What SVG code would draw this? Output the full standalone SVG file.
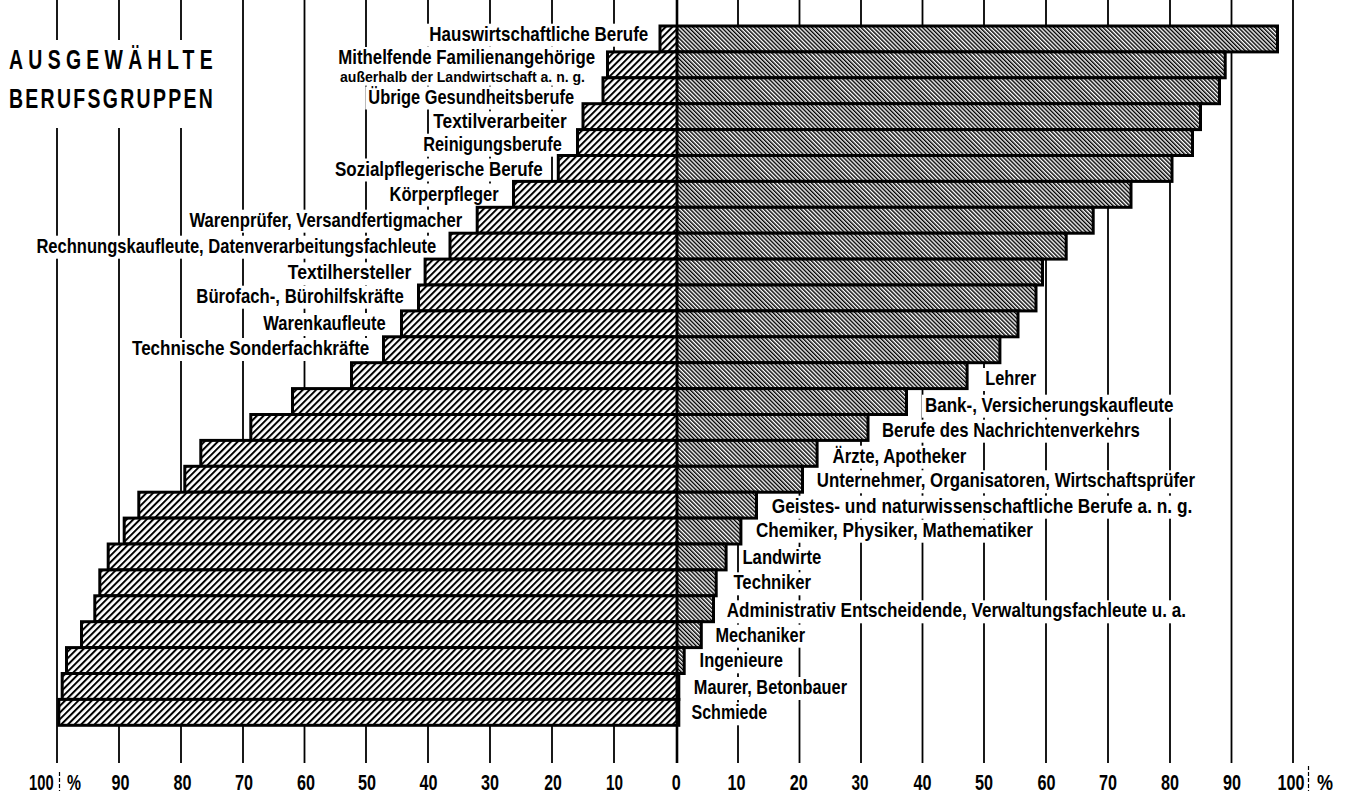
<svg xmlns="http://www.w3.org/2000/svg" width="1366" height="800" viewBox="0 0 1366 800">
<style>
.g{stroke:#000;stroke-width:1.8;fill:none}
.g0{stroke:#000;stroke-width:2.6;fill:none}
.bg{fill:#fff}
.t{font-family:"Liberation Sans",Arial,sans-serif;font-weight:bold;font-size:20.5px;fill:#000}
.ts{font-family:"Liberation Sans",Arial,sans-serif;font-weight:bold;font-size:14px;fill:#000}
.ax{font-family:"Liberation Sans",Arial,sans-serif;font-weight:bold;font-size:22px;fill:#000;text-anchor:middle}
.ti{font-family:"Liberation Sans",Arial,sans-serif;font-weight:bold;font-size:27px;fill:#000}
.hl{fill:url(#hl)}
.hr{fill:url(#hr)}
.ol{fill:none;stroke:#000;stroke-width:3}
</style>
<defs>
<pattern id="hl" patternUnits="userSpaceOnUse" width="4.7" height="10" patternTransform="rotate(45)">
<rect width="4.7" height="10" fill="#fff"/><rect width="2" height="10" fill="#000"/>
</pattern>
<pattern id="hr" patternUnits="userSpaceOnUse" width="2.9" height="10" patternTransform="rotate(-45)">
<rect width="2.9" height="10" fill="#fff"/><rect width="1.45" height="10" fill="#000"/>
</pattern>
</defs>
<rect width="1366" height="800" fill="#fff"/>

<g id="grid">
<line class="g" x1="57" y1="0" x2="57" y2="763"/>
<line class="g" x1="119" y1="0" x2="119" y2="763"/>
<line class="g" x1="181" y1="0" x2="181" y2="763"/>
<line class="g" x1="243" y1="0" x2="243" y2="763"/>
<line class="g" x1="304.5" y1="0" x2="304.5" y2="763"/>
<line class="g" x1="366" y1="0" x2="366" y2="763"/>
<line class="g" x1="428" y1="0" x2="428" y2="763"/>
<line class="g" x1="490" y1="0" x2="490" y2="763"/>
<line class="g" x1="552" y1="0" x2="552" y2="763"/>
<line class="g" x1="614" y1="0" x2="614" y2="763"/>
<line class="g0" x1="677" y1="0" x2="677" y2="763"/>
<line class="g" x1="738" y1="0" x2="738" y2="763"/>
<line class="g" x1="799.5" y1="0" x2="799.5" y2="763"/>
<line class="g" x1="861" y1="0" x2="861" y2="763"/>
<line class="g" x1="922.5" y1="0" x2="922.5" y2="763"/>
<line class="g" x1="984" y1="0" x2="984" y2="763"/>
<line class="g" x1="1046" y1="0" x2="1046" y2="763"/>
<line class="g" x1="1108" y1="0" x2="1108" y2="763"/>
<line class="g" x1="1170" y1="0" x2="1170" y2="763"/>
<line class="g" x1="1231.5" y1="0" x2="1231.5" y2="763"/>
<line class="g" x1="1293" y1="0" x2="1293" y2="763"/>
<line x1="59.5" y1="772" x2="59.5" y2="791" stroke="#000" stroke-width="1.2" stroke-dasharray="4 2"/>
<line x1="1308.5" y1="766" x2="1308.5" y2="791" stroke="#000" stroke-width="1.2" stroke-dasharray="4 2"/>
</g>

<g id="title">
<rect class="bg" x="0" y="40" width="228" height="88"/>
<g transform="translate(9,69) scale(0.72,1)"><text class="ti" x="0" y="0" textLength="283" lengthAdjust="spacing">AUSGEWÄHLTE</text></g>
<g transform="translate(9,107.5) scale(0.72,1)"><text class="ti" x="0" y="0" textLength="283" lengthAdjust="spacing">BERUFSGRUPPEN</text></g>
</g>

<g id="axis-labels">
<text class="ax" x="41.3" y="790" textLength="24.6" lengthAdjust="spacingAndGlyphs">100</text>
<text class="ax" x="74" y="790" textLength="14" lengthAdjust="spacingAndGlyphs">%</text>
<text class="ax" x="120.5" y="790" textLength="18" lengthAdjust="spacingAndGlyphs">90</text>
<text class="ax" x="182.6" y="790" textLength="18" lengthAdjust="spacingAndGlyphs">80</text>
<text class="ax" x="244" y="790" textLength="18" lengthAdjust="spacingAndGlyphs">70</text>
<text class="ax" x="306" y="790" textLength="18" lengthAdjust="spacingAndGlyphs">60</text>
<text class="ax" x="367" y="790" textLength="18" lengthAdjust="spacingAndGlyphs">50</text>
<text class="ax" x="428.6" y="790" textLength="18" lengthAdjust="spacingAndGlyphs">40</text>
<text class="ax" x="490" y="790" textLength="18" lengthAdjust="spacingAndGlyphs">30</text>
<text class="ax" x="553" y="790" textLength="17.6" lengthAdjust="spacingAndGlyphs">20</text>
<text class="ax" x="614.5" y="790" textLength="17" lengthAdjust="spacingAndGlyphs">10</text>
<text class="ax" x="676.3" y="790" textLength="9" lengthAdjust="spacingAndGlyphs">0</text>
<text class="ax" x="736.6" y="790" textLength="18" lengthAdjust="spacingAndGlyphs">10</text>
<text class="ax" x="798.7" y="790" textLength="18" lengthAdjust="spacingAndGlyphs">20</text>
<text class="ax" x="860" y="790" textLength="17" lengthAdjust="spacingAndGlyphs">30</text>
<text class="ax" x="922.6" y="790" textLength="18" lengthAdjust="spacingAndGlyphs">40</text>
<text class="ax" x="984" y="790" textLength="18" lengthAdjust="spacingAndGlyphs">50</text>
<text class="ax" x="1046.5" y="790" textLength="18" lengthAdjust="spacingAndGlyphs">60</text>
<text class="ax" x="1108" y="790" textLength="18" lengthAdjust="spacingAndGlyphs">70</text>
<text class="ax" x="1170" y="790" textLength="18" lengthAdjust="spacingAndGlyphs">80</text>
<text class="ax" x="1232" y="790" textLength="18" lengthAdjust="spacingAndGlyphs">90</text>
<text class="ax" x="1291" y="790" textLength="27" lengthAdjust="spacingAndGlyphs">100</text>
<text class="ax" x="1325" y="790" textLength="16" lengthAdjust="spacingAndGlyphs">%</text>
</g>

<g id="labels">
<g id="label-1"><rect class="bg" x="426.3" y="23.7" width="225" height="23"/><text class="t" x="429.3" y="40.7" textLength="219" lengthAdjust="spacingAndGlyphs">Hauswirtschaftliche Berufe</text></g>
<g id="label-2"><rect class="bg" x="335.3" y="47" width="262.7" height="23"/><text class="t" x="338.3" y="64" textLength="256.7" lengthAdjust="spacingAndGlyphs">Mithelfende Familienangehörige</text>
<rect class="bg" x="337" y="69.7" width="251" height="16"/><text class="ts" x="340" y="81.7" textLength="245" lengthAdjust="spacingAndGlyphs">außerhalb der Landwirtschaft a. n. g.</text></g>
<g id="label-3"><rect class="bg" x="365.3" y="86.5" width="211.7" height="23"/><text class="t" x="368.3" y="103.5" textLength="205.7" lengthAdjust="spacingAndGlyphs">Übrige Gesundheitsberufe</text></g>
<g id="label-4"><rect class="bg" x="430.3" y="111.3" width="139.4" height="23"/><text class="t" x="433.3" y="128.3" textLength="133.4" lengthAdjust="spacingAndGlyphs">Textilverarbeiter</text></g>
<g id="label-5"><rect class="bg" x="420.3" y="133.7" width="144.4" height="23"/><text class="t" x="423.3" y="150.7" textLength="138.4" lengthAdjust="spacingAndGlyphs">Reinigungsberufe</text></g>
<g id="label-6"><rect class="bg" x="332" y="158.5" width="213.7" height="23"/><text class="t" x="335" y="175.5" textLength="207.7" lengthAdjust="spacingAndGlyphs">Sozialpflegerische Berufe</text></g>
<g id="label-7"><rect class="bg" x="386.6" y="183.5" width="115.1" height="23"/><text class="t" x="389.6" y="200.5" textLength="109.1" lengthAdjust="spacingAndGlyphs">Körperpfleger</text></g>
<g id="label-8"><rect class="bg" x="186.4" y="209.7" width="278.9" height="23"/><text class="t" x="189.4" y="226.7" textLength="272.9" lengthAdjust="spacingAndGlyphs">Warenprüfer, Versandfertigmacher</text></g>
<g id="label-9"><rect class="bg" x="33.4" y="235.7" width="405.9" height="23"/><text class="t" x="36.4" y="252.7" textLength="399.9" lengthAdjust="spacingAndGlyphs">Rechnungskaufleute, Datenverarbeitungsfachleute</text></g>
<g id="label-10"><rect class="bg" x="284.8" y="262.3" width="129.6" height="23"/><text class="t" x="287.8" y="279.3" textLength="123.6" lengthAdjust="spacingAndGlyphs">Textilhersteller</text></g>
<g id="label-11"><rect class="bg" x="193.3" y="285.7" width="213.4" height="23"/><text class="t" x="196.3" y="302.7" textLength="207.4" lengthAdjust="spacingAndGlyphs">Bürofach-, Bürohilfskräfte</text></g>
<g id="label-12"><rect class="bg" x="260.3" y="313" width="128.5" height="23"/><text class="t" x="263.3" y="330" textLength="122.5" lengthAdjust="spacingAndGlyphs">Warenkaufleute</text></g>
<g id="label-13"><rect class="bg" x="129" y="338" width="243.3" height="23"/><text class="t" x="132" y="355" textLength="237.3" lengthAdjust="spacingAndGlyphs">Technische Sonderfachkräfte</text></g>
<g id="label-14"><rect class="bg" x="982.2" y="368" width="56.8" height="23"/><text class="t" x="985.2" y="385" textLength="50.8" lengthAdjust="spacingAndGlyphs">Lehrer</text></g>
<g id="label-15"><rect class="bg" x="921.9" y="394.7" width="254.6" height="23"/><text class="t" x="924.9" y="411.7" textLength="248.6" lengthAdjust="spacingAndGlyphs">Bank-, Versicherungskaufleute</text></g>
<g id="label-16"><rect class="bg" x="879" y="419.7" width="263.7" height="23"/><text class="t" x="882" y="436.7" textLength="257.7" lengthAdjust="spacingAndGlyphs">Berufe des Nachrichtenverkehrs</text></g>
<g id="label-17"><rect class="bg" x="829.5" y="445.7" width="139.8" height="23"/><text class="t" x="832.5" y="462.7" textLength="133.8" lengthAdjust="spacingAndGlyphs">Ärzte, Apotheker</text></g>
<g id="label-18"><rect class="bg" x="813.8" y="470.3" width="384.2" height="23"/><text class="t" x="816.8" y="487.3" textLength="378.2" lengthAdjust="spacingAndGlyphs">Unternehmer, Organisatoren, Wirtschaftsprüfer</text></g>
<g id="label-19"><rect class="bg" x="768.7" y="495.7" width="426.7" height="23"/><text class="t" x="771.7" y="512.7" textLength="420.7" lengthAdjust="spacingAndGlyphs">Geistes- und naturwissenschaftliche Berufe a. n. g.</text></g>
<g id="label-20"><rect class="bg" x="753" y="519.7" width="283" height="23"/><text class="t" x="756" y="536.7" textLength="277" lengthAdjust="spacingAndGlyphs">Chemiker, Physiker, Mathematiker</text></g>
<g id="label-21"><rect class="bg" x="739.4" y="547" width="84.9" height="23"/><text class="t" x="742.4" y="564" textLength="78.9" lengthAdjust="spacingAndGlyphs">Landwirte</text></g>
<g id="label-22"><rect class="bg" x="730.4" y="572.3" width="83.6" height="23"/><text class="t" x="733.4" y="589.3" textLength="77.6" lengthAdjust="spacingAndGlyphs">Techniker</text></g>
<g id="label-23"><rect class="bg" x="723.7" y="600.3" width="465.3" height="23"/><text class="t" x="726.7" y="617.3" textLength="459.3" lengthAdjust="spacingAndGlyphs">Administrativ Entscheidende, Verwaltungsfachleute u. a.</text></g>
<g id="label-24"><rect class="bg" x="712.4" y="624.7" width="95.6" height="23"/><text class="t" x="715.4" y="641.7" textLength="89.6" lengthAdjust="spacingAndGlyphs">Mechaniker</text></g>
<g id="label-25"><rect class="bg" x="696.6" y="650.3" width="89.4" height="23"/><text class="t" x="699.6" y="667.3" textLength="83.4" lengthAdjust="spacingAndGlyphs">Ingenieure</text></g>
<g id="label-26"><rect class="bg" x="690.8" y="677" width="159.2" height="23"/><text class="t" x="693.8" y="694" textLength="153.2" lengthAdjust="spacingAndGlyphs">Maurer, Betonbauer</text></g>
<g id="label-27"><rect class="bg" x="688.5" y="702.3" width="81.7" height="23"/><text class="t" x="691.5" y="719.3" textLength="75.7" lengthAdjust="spacingAndGlyphs">Schmiede</text></g>
</g>

<g id="bars">
<g id="bar-1"><rect class="hl" x="660" y="26" width="17" height="25.9"/><rect class="hr" x="677" y="26" width="600.5" height="25.9"/><rect class="ol" x="660" y="26" width="617.5" height="25.9"/></g>
<g id="bar-2"><rect class="hl" x="607.5" y="51.9" width="69.5" height="25.9"/><rect class="hr" x="677" y="51.9" width="548.2" height="25.9"/><rect class="ol" x="607.5" y="51.9" width="617.7" height="25.9"/></g>
<g id="bar-3"><rect class="hl" x="603" y="77.8" width="74" height="25.9"/><rect class="hr" x="677" y="77.8" width="542.5" height="25.9"/><rect class="ol" x="603" y="77.8" width="616.5" height="25.9"/></g>
<g id="bar-4"><rect class="hl" x="583" y="103.7" width="94" height="25.9"/><rect class="hr" x="677" y="103.7" width="523.5" height="25.9"/><rect class="ol" x="583" y="103.7" width="617.5" height="25.9"/></g>
<g id="bar-5"><rect class="hl" x="577.5" y="129.6" width="99.5" height="25.9"/><rect class="hr" x="677" y="129.6" width="515.5" height="25.9"/><rect class="ol" x="577.5" y="129.6" width="615" height="25.9"/></g>
<g id="bar-6"><rect class="hl" x="558.3" y="155.5" width="118.7" height="25.9"/><rect class="hr" x="677" y="155.5" width="495" height="25.9"/><rect class="ol" x="558.3" y="155.5" width="613.7" height="25.9"/></g>
<g id="bar-7"><rect class="hl" x="513.5" y="181.4" width="163.5" height="25.9"/><rect class="hr" x="677" y="181.4" width="454" height="25.9"/><rect class="ol" x="513.5" y="181.4" width="617.5" height="25.9"/></g>
<g id="bar-8"><rect class="hl" x="477.2" y="207.3" width="199.8" height="25.9"/><rect class="hr" x="677" y="207.3" width="416.2" height="25.9"/><rect class="ol" x="477.2" y="207.3" width="616" height="25.9"/></g>
<g id="bar-9"><rect class="hl" x="450" y="233.2" width="227" height="25.9"/><rect class="hr" x="677" y="233.2" width="389.2" height="25.9"/><rect class="ol" x="450" y="233.2" width="616.2" height="25.9"/></g>
<g id="bar-10"><rect class="hl" x="425.1" y="259.1" width="251.9" height="25.9"/><rect class="hr" x="677" y="259.1" width="365.5" height="25.9"/><rect class="ol" x="425.1" y="259.1" width="617.4" height="25.9"/></g>
<g id="bar-11"><rect class="hl" x="418.5" y="285" width="258.5" height="25.9"/><rect class="hr" x="677" y="285" width="359" height="25.9"/><rect class="ol" x="418.5" y="285" width="617.5" height="25.9"/></g>
<g id="bar-12"><rect class="hl" x="401.5" y="310.9" width="275.5" height="25.9"/><rect class="hr" x="677" y="310.9" width="341" height="25.9"/><rect class="ol" x="401.5" y="310.9" width="616.5" height="25.9"/></g>
<g id="bar-13"><rect class="hl" x="383.5" y="336.8" width="293.5" height="25.9"/><rect class="hr" x="677" y="336.8" width="322.9" height="25.9"/><rect class="ol" x="383.5" y="336.8" width="616.4" height="25.9"/></g>
<g id="bar-14"><rect class="hl" x="351.5" y="362.7" width="325.5" height="25.9"/><rect class="hr" x="677" y="362.7" width="290.1" height="25.9"/><rect class="ol" x="351.5" y="362.7" width="615.6" height="25.9"/></g>
<g id="bar-15"><rect class="hl" x="292.5" y="388.6" width="384.5" height="25.9"/><rect class="hr" x="677" y="388.6" width="229.5" height="25.9"/><rect class="ol" x="292.5" y="388.6" width="614" height="25.9"/></g>
<g id="bar-16"><rect class="hl" x="250.8" y="414.5" width="426.2" height="25.9"/><rect class="hr" x="677" y="414.5" width="191" height="25.9"/><rect class="ol" x="250.8" y="414.5" width="617.2" height="25.9"/></g>
<g id="bar-17"><rect class="hl" x="200.8" y="440.4" width="476.2" height="25.9"/><rect class="hr" x="677" y="440.4" width="140.1" height="25.9"/><rect class="ol" x="200.8" y="440.4" width="616.3" height="25.9"/></g>
<g id="bar-18"><rect class="hl" x="184.8" y="466.3" width="492.2" height="25.9"/><rect class="hr" x="677" y="466.3" width="125.5" height="25.9"/><rect class="ol" x="184.8" y="466.3" width="617.7" height="25.9"/></g>
<g id="bar-19"><rect class="hl" x="138.8" y="492.2" width="538.2" height="25.9"/><rect class="hr" x="677" y="492.2" width="79.5" height="25.9"/><rect class="ol" x="138.8" y="492.2" width="617.7" height="25.9"/></g>
<g id="bar-20"><rect class="hl" x="124.2" y="518.1" width="552.8" height="25.9"/><rect class="hr" x="677" y="518.1" width="63.9" height="25.9"/><rect class="ol" x="124.2" y="518.1" width="616.7" height="25.9"/></g>
<g id="bar-21"><rect class="hl" x="108.2" y="544" width="568.8" height="25.9"/><rect class="hr" x="677" y="544" width="49.1" height="25.9"/><rect class="ol" x="108.2" y="544" width="617.9" height="25.9"/></g>
<g id="bar-22"><rect class="hl" x="99.8" y="569.9" width="577.2" height="25.9"/><rect class="hr" x="677" y="569.9" width="39.2" height="25.9"/><rect class="ol" x="99.8" y="569.9" width="616.4" height="25.9"/></g>
<g id="bar-23"><rect class="hl" x="94.8" y="595.8" width="582.2" height="25.9"/><rect class="hr" x="677" y="595.8" width="36.5" height="25.9"/><rect class="ol" x="94.8" y="595.8" width="618.7" height="25.9"/></g>
<g id="bar-24"><rect class="hl" x="81.5" y="621.7" width="595.5" height="25.9"/><rect class="hr" x="677" y="621.7" width="24.3" height="25.9"/><rect class="ol" x="81.5" y="621.7" width="619.8" height="25.9"/></g>
<g id="bar-25"><rect class="hl" x="66.5" y="647.6" width="610.5" height="25.9"/><rect class="hr" x="677" y="647.6" width="7.2" height="25.9"/><rect class="ol" x="66.5" y="647.6" width="617.7" height="25.9"/></g>
<g id="bar-26"><rect class="hl" x="62.2" y="673.5" width="614.8" height="25.9"/><rect class="hr" x="677" y="673.5" width="1.8" height="25.9"/><rect class="ol" x="62.2" y="673.5" width="616.6" height="25.9"/></g>
<g id="bar-27"><rect class="hl" x="58.8" y="699.4" width="618.2" height="25.9"/><rect class="hr" x="677" y="699.4" width="1.8" height="25.9"/><rect class="ol" x="58.8" y="699.4" width="620" height="25.9"/></g>
<line x1="677" y1="26" x2="677" y2="725.3" stroke="#000" stroke-width="3"/>
</g>
</svg>
